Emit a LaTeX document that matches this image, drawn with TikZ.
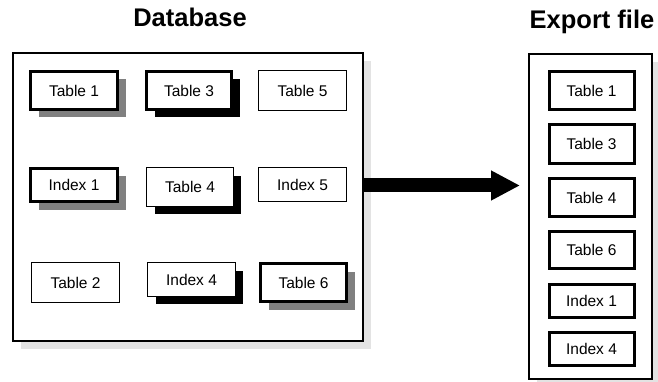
\documentclass[tikz,border=0pt]{standalone}
\usepackage{fontspec}
\setmainfont{Liberation Sans}
\usetikzlibrary{shadows,arrows.meta}
\definecolor{lightsh}{HTML}{E3E3E3}
\definecolor{midsh}{HTML}{808080}
\tikzset{
  lbl/.style={font=\fontsize{15.5}{18}\selectfont, inner sep=0pt, fill=white, draw=black},
  thickbox/.style={lbl, line width=3pt},
  thinbox/.style={lbl, line width=1.4pt},
  gshadow/.style={drop shadow={opacity=1, fill=midsh, shadow xshift=8pt, shadow yshift=-8pt}},
  bshadow/.style={drop shadow={opacity=1, fill=black, shadow xshift=8pt, shadow yshift=-8pt}},
  container/.style={draw=black, fill=white, line width=2pt, inner sep=0pt,
    drop shadow={opacity=1, fill=lightsh, shadow xshift=8pt, shadow yshift=-8pt}},
  title/.style={font=\bfseries\fontsize{25.5}{30}\selectfont, inner sep=0pt, anchor=base},
  bigarrow/.style={line width=14pt, -{Triangle[length=29pt,width=28pt]}}
}
\begin{document}
\begin{tikzpicture}[x=1pt,y=-1pt]
\useasboundingbox (0,0) rectangle (658,382);
% titles
\node[title] (tdb) at (190,27) {Database};
\node[title] (tex) at (592,29) {Export file};
% containers
\node[container, minimum width=350pt, minimum height=288pt] (db) at (188,197) {};
\node[container, minimum width=123pt, minimum height=325pt] (ex) at (590.5,216.5) {};
% database contents
\node[thickbox, gshadow, minimum width=87pt, minimum height=38pt] (d1) at (74,90.5) {Table 1};
\node[thickbox, bshadow, minimum width=85pt, minimum height=38pt] (d3) at (189,90.5) {Table 3};
\node[thinbox, minimum width=87.5pt, minimum height=39.5pt] (d5) at (302.5,90.5) {Table 5};
\node[thickbox, gshadow, minimum width=87pt, minimum height=33pt] (di1) at (74,185) {Index 1};
\node[thinbox, bshadow, minimum width=86.5pt, minimum height=38.5pt] (d4) at (190,187) {Table 4};
\node[thinbox, minimum width=87.5pt, minimum height=33.5pt] (di5) at (302.5,184.5) {Index 5};
\node[thinbox, minimum width=87.5pt, minimum height=39.5pt] (d2) at (75.5,282.5) {Table 2};
\node[thinbox, bshadow, minimum width=87.5pt, minimum height=33.5pt] (di4) at (191.5,279.5) {Index 4};
\node[thickbox, gshadow, minimum width=86pt, minimum height=38pt] (d6) at (303.5,282.5) {Table 6};
% export contents
\node[thickbox, minimum width=85pt, minimum height=38pt] (e1) at (591.5,90.5) {Table 1};
\node[thickbox, minimum width=85pt, minimum height=39pt] (e3) at (591.5,144) {Table 3};
\node[thickbox, minimum width=85pt, minimum height=38pt] (e4) at (591.5,197.5) {Table 4};
\node[thickbox, minimum width=85pt, minimum height=37pt] (e6) at (591.5,250) {Table 6};
\node[thickbox, minimum width=85pt, minimum height=33pt] (ei1) at (591.5,301) {Index 1};
\node[thickbox, minimum width=85pt, minimum height=33pt] (ei4) at (591.5,349) {Index 4};
% arrow
\path (db.east) ++(0,-11.5) coordinate (aS);
\draw[bigarrow, shorten >=8pt] (aS) -- (aS -| ex.west);
\end{tikzpicture}
\end{document}
